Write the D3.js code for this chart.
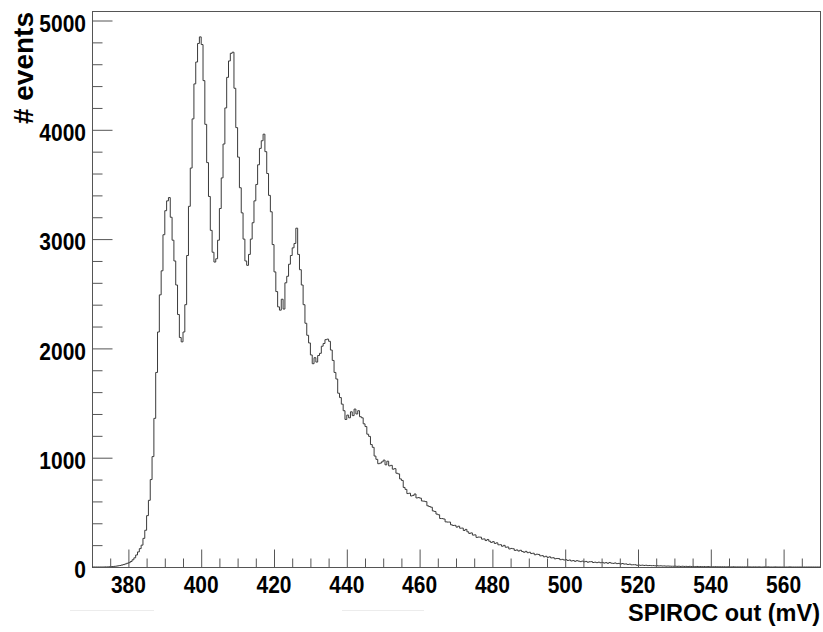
<!DOCTYPE html>
<html><head><meta charset="utf-8">
<script src="https://cdn.jsdelivr.net/npm/d3@7"></script>
<style>
body{margin:0;background:#fff;}
svg text{font-family:"Liberation Sans",Arial,Helvetica,sans-serif;font-weight:bold;fill:#000;}
.xl{transform-box:fill-box;transform-origin:center;transform:scaleY(1.18);}
.yl{transform-box:fill-box;transform-origin:center;transform:scaleY(1.12);}
</style>
</head><body>
<script>
// Histogram: SPIROC out (mV), bin width 0.5 mV, from 370 to 570
const binStart = 370;
const binWidth = 0.5;
const xDomain = [370, 570];
const yMax = 5087;
const xMajorTicks = [380,400,420,440,460,480,500,520,540,560];
const yMajorTicks = [0,1000,2000,3000,4000,5000];
const xTitle = "SPIROC out (mV)";
const yTitle = "# events";
const counts = [
 0,0,0,0,0,0,0,1,1,2, 3,4,6,8,11,14,18,22,28,34,              // 370-380
 40,50,66,84,110,138,168,200,262,336, 470,610,800,1010,1360,1780,2150,2490,2710,3040, // 380-390
 3260,3350,3380,3200,2990,2800,2580,2310,2100,2060, 2150,2400,2850,3300,3650,4100,4420,4620,4790,4850, // 390-400
 4780,4450,4050,3700,3390,3080,2880,2790,2820,2990, 3280,3560,3870,4200,4480,4630,4700,4710,4380,4020, // 400-410
 3750,3470,3240,3000,2800,2760,2860,3000,3150,3350, 3500,3680,3830,3900,3960,3800,3600,3400,3250,2950, // 410-420
 2700,2520,2380,2350,2450,2360,2600,2660,2770,2850, 2920,2960,3100,2860,2720,2580,2400,2230,2120,2050, // 420-430
 1940,1860,1915,1875,1935,1955,2020,2045,2080,2085, 2065,1985,1890,1780,1720,1590,1550,1490,1430,1350, // 430-440
 1390,1365,1420,1385,1445,1400,1430,1375,1365,1310, 1285,1215,1195,1120,1095,1015,985,945,950,962,      // 440-450
 978,935,968,925,930,895,900,858,852,806, 792,728,710,672,675,650,655,668,632,635,                    // 450-460
 630,604,602,598,560,553,547,513,508,484, 478,444,443,439,413,411,411,386,380,381,                    // 460-470
 365,373,355,356,334,344,322,307,312,292, 294,271,274,273,255,257,242,252,236,225,                    // 470-480
 232,216,221,203,204,190,198,181,183,165, 170,167,152,156,146,153,142,135,143,131,                    // 480-490
 135,123,126,112,117,115,102,104,93,98, 88,93,83,85,75,78,77,67,70,64,                                 // 490-500
 67,60,64,55,59,52,58,54,49,54, 47,51,44,48,49,41,44,40,44,39,                                         // 500-510
 42,36,40,34,41,35,33,37,31,33, 27,32,27,28,23,26,20,21,21,16,                                         // 510-520
 18,15,17,14,16,13,14,12,13,11, 12,10,11,9,10,8,9,8,7,7,                                               // 520-530
 8,6,7,5,7,5,6,4,6,4, 5,3,5,3,4,3,4,2,4,2,                                                             // 530-540
 3,2,3,2,2,2,2,2,1,2, 1,1,2,1,1,1,1,1,1,1,                                                             // 540-550
 1,1,0,1,1,0,1,0,0,1, 0,1,0,0,0,1,0,0,0,0,                                                             // 550-560
 0,0,0,1,0,0,0,0,0,0, 0,0,0,0,0,0,0,0,0,0                                                              // 560-570
];

const W = 823, H = 632;
const L = 92, R = 820, T = 11, B = 567;
const svg = d3.select("body").append("svg").attr("width", W).attr("height", H);

const x = d3.scaleLinear().domain(xDomain).range([L, R]);
const y = d3.scaleLinear().domain([0, yMax]).range([B, T]);

// faint artefact lines below axis
svg.append("line").attr("x1",70).attr("x2",154).attr("y1",610.5).attr("y2",610.5).attr("stroke","#ececec");
svg.append("line").attr("x1",342).attr("x2",424).attr("y1",610.5).attr("y2",610.5).attr("stroke","#ececec");

// frame
svg.append("rect").attr("x", L+0.5).attr("y", T+0.5).attr("width", R-L).attr("height", B-T)
  .attr("fill","none").attr("stroke","#555").attr("stroke-width",1);

// histogram as step line
const pts = counts.map((c,i)=>[binStart + i*binWidth, c]);
pts.push([binStart + counts.length*binWidth, counts[counts.length-1]]);
const line = d3.line().x(d=>x(d[0])).y(d=>y(d[1])).curve(d3.curveStepAfter);
svg.append("path").attr("d", line(pts)).attr("fill","none").attr("stroke","#3a3a3a").attr("stroke-width",1);

// x axis: minor ticks every 5, major every 20
const xMinor = d3.range(375, 570, 5).filter(v=>xMajorTicks.indexOf(v)<0);
const xAxisMinor = d3.axisTop(x).tickValues(xMinor).tickSize(9).tickFormat("");
const xAxisMajor = d3.axisTop(x).tickValues(xMajorTicks).tickSize(18).tickFormat("");
[xAxisMinor, xAxisMajor].forEach(ax=>{
  const g = svg.append("g").attr("transform",`translate(0,${B+0.5})`).call(ax);
  g.select(".domain").remove();
  g.selectAll("line").attr("stroke","#555");
});
svg.append("g").selectAll("text").data(xMajorTicks).join("text")
  .attr("class","xl").attr("x", d=>x(d)).attr("y", 592).attr("text-anchor","middle")
  .attr("font-size", 21).text(d=>d);

// y axis
const yMinor = d3.range(200, 5001, 200).filter(v=>yMajorTicks.indexOf(v)<0);
const yAxisMinor = d3.axisRight(y).tickValues(yMinor).tickSize(10).tickFormat("");
const yAxisMajor = d3.axisRight(y).tickValues(yMajorTicks).tickSize(20).tickFormat("");
[yAxisMinor, yAxisMajor].forEach(ax=>{
  const g = svg.append("g").attr("transform",`translate(${L+0.5},0)`).call(ax);
  g.select(".domain").remove();
  g.selectAll("line").attr("stroke","#555");
});
svg.append("g").selectAll("text").data(yMajorTicks).join("text")
  .attr("class","yl").attr("x", 86).attr("y", d=>y(d)+10.5).attr("text-anchor","end")
  .attr("font-size", 21).text(d=>d);

// titles
svg.append("text").attr("x", 820).attr("y", 621).attr("text-anchor","end")
  .attr("font-size", 23.5).text(xTitle);
svg.append("text").attr("transform","translate(33,12) rotate(-90)").attr("text-anchor","end")
  .attr("font-size", 28).text(yTitle);
</script>
</body></html>
